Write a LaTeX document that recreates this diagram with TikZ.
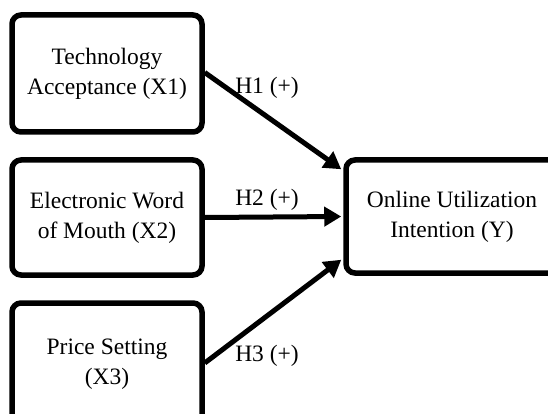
\documentclass[tikz,border=0pt]{standalone}
\usepackage{fontspec}
\setmainfont{Liberation Serif}
\usetikzlibrary{arrows.meta,calc}
\begin{document}
\begin{tikzpicture}[x=1pt,y=-1pt,
  boxst/.style={draw=black,line width=5.5pt,rounded corners=9pt,align=center,
    font=\fontsize{23.5}{30}\selectfont,inner sep=0pt},
  arr/.style={line width=5pt,-{Triangle[length=17pt,width=19pt]}},
  lab/.style={font=\fontsize{23.5}{28}\selectfont,inner sep=0pt}]
\useasboundingbox (0,0) rectangle (548,414);
\begin{scope}
\clip (0,0) rectangle (548,414);
\node[boxst,minimum width=190pt,minimum height=117pt] (b1) at (107,73.5) {Technology\\Acceptance (X1)};
\node[boxst,minimum width=190pt,minimum height=115pt] (b2) at (107,217.5) {Electronic Word\\of Mouth (X2)};
\node[boxst,minimum width=190pt,minimum height=122pt] (b3) at (107,364) {Price Setting\\(X3)};
\node[boxst,minimum width=212pt,minimum height=113pt] (y) at (452,216.5) {Online Utilization\\Intention (Y)};
\coordinate (e1) at ($(y.north west)+(-2,12)$);
\coordinate (e2) at ($(y.west)+(-2,0)$);
\coordinate (e3) at ($(y.south west)+(-2,-16)$);
\coordinate (s1) at ($(b1.east)+(0,-1)$);
\coordinate (s3) at ($(b3.east)+(0,-1)$);
\draw[arr] (s1) -- (e1);
\draw[arr] (b2.east) -- (e2);
\draw[arr] (s3) -- (e3);
\end{scope}
\node[lab] (h1) at (267,88) {H1 (+)};
\node[lab] (h2) at (267,200) {H2 (+)};
\node[lab] (h3) at (267,356) {H3 (+)};
\end{tikzpicture}
\end{document}
